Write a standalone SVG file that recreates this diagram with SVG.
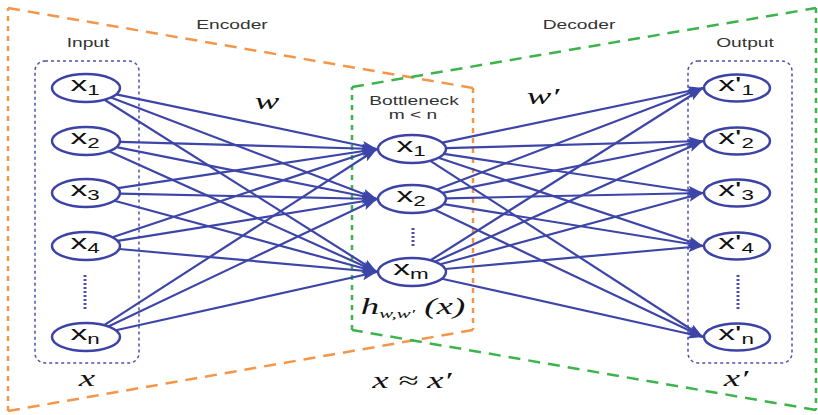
<svg xmlns="http://www.w3.org/2000/svg" width="818" height="415" viewBox="0 0 818 415">
<style>
.bg{fill:#ffffff}
.or{fill:none;stroke:#f4964a;stroke-width:2.5;stroke-dasharray:12 8}
.orv{fill:none;stroke:#f4964a;stroke-width:2.5;stroke-dasharray:5 5}
.gr{fill:none;stroke:#3cb44b;stroke-width:2.5;stroke-dasharray:12 8}
.grv{fill:none;stroke:#3cb44b;stroke-width:2.5;stroke-dasharray:5 5}
.box{fill:none;stroke:#4a50b0;stroke-width:1.5;stroke-dasharray:3 3}
.dots{fill:none;stroke:#4a50b0;stroke-width:3;stroke-dasharray:2 2}
.edge{fill:none;stroke:#3d45a8;stroke-width:2.2;marker-end:url(#arr)}
.node ellipse{fill:#ffffff;stroke:#3d43a5;stroke-width:2.5}
.lbl{font-family:"Liberation Sans",Arial,sans-serif;font-size:21px;fill:#111;text-anchor:middle}
.sub{font-size:14px}
.cap{font-family:"Liberation Sans",Arial,sans-serif;font-size:12px;fill:#333;text-anchor:middle}
.math{font-family:"Liberation Serif","Times New Roman",serif;font-style:italic;font-size:23px;fill:#111;text-anchor:middle}
</style>
<defs>
<marker id="arr" markerUnits="userSpaceOnUse" markerWidth="16" markerHeight="12" refX="15" refY="5" orient="auto">
<path d="M0,0 L15,5 L0,10 L3,5 Z" fill="#3d45a8"/>
</marker>
</defs>
<rect class="bg" x="0" y="0" width="818" height="415"/>
<g id="encoder-frame">
<path class="or" d="M8,8 L473,88"/>
<path class="orv" d="M473,88 L473,330"/>
<path class="or" d="M473,330 L8,411"/>
<path class="orv" d="M8,411 L8,8"/>
</g>
<g id="decoder-frame">
<path class="gr" d="M352,87 L816,8"/>
<path class="grv" d="M816,8 L816,410"/>
<path class="gr" d="M816,410 L352,330"/>
<path class="grv" d="M352,330 L352,87"/>
</g>
<g id="input-box"><rect class="box" x="35" y="61" width="104" height="302" rx="10"/></g>
<g id="output-box"><rect class="box" x="688" y="61" width="104" height="302" rx="10"/></g>
<g id="connectors">
<path class="edge" d="M116.3,94.4 L377,149"/>
<path class="edge" d="M110.9,97.5 L377,199"/>
<path class="edge" d="M104.5,99.7 L377,272"/>
<path class="edge" d="M119.9,141.9 L377,149"/>
<path class="edge" d="M116.6,147.1 L377,199"/>
<path class="edge" d="M108.9,151.3 L377,272"/>
<path class="edge" d="M117.9,188.2 L377,149"/>
<path class="edge" d="M120,193.7 L377,199"/>
<path class="edge" d="M114.4,200.7 L377,272"/>
<path class="edge" d="M112.4,237.2 L377,149"/>
<path class="edge" d="M117.6,240.9 L377,199"/>
<path class="edge" d="M119.2,249 L377,272"/>
<path class="edge" d="M104.2,325.2 L377,149"/>
<path class="edge" d="M108.3,326.4 L377,199"/>
<path class="edge" d="M115.9,330.3 L377,272"/>
<path class="edge" d="M442.3,142.6 L703,88"/>
<path class="edge" d="M445.9,148.1 L703,141"/>
<path class="edge" d="M443.9,153.8 L703,193"/>
<path class="edge" d="M438.4,157.8 L703,246"/>
<path class="edge" d="M430.3,160.8 L703,337"/>
<path class="edge" d="M436.9,189.5 L703,88"/>
<path class="edge" d="M442.6,192.9 L703,141"/>
<path class="edge" d="M446,198.3 L703,193"/>
<path class="edge" d="M443.7,204.1 L703,246"/>
<path class="edge" d="M434.3,209.6 L703,337"/>
<path class="edge" d="M430.6,260.3 L703,88"/>
<path class="edge" d="M435,261.7 L703,141"/>
<path class="edge" d="M440.4,264.3 L703,193"/>
<path class="edge" d="M445.2,269 L703,246"/>
<path class="edge" d="M441.9,278.7 L703,337"/>
</g>
<g id="in-x1" class="node"><ellipse cx="86" cy="88" rx="34" ry="14"/><text class="lbl" transform="translate(85,91) scale(1.6,1)">x<tspan class="sub" dy="4">1</tspan></text></g>
<g id="in-x2" class="node"><ellipse cx="86" cy="141" rx="34" ry="14"/><text class="lbl" transform="translate(85,144) scale(1.6,1)">x<tspan class="sub" dy="4">2</tspan></text></g>
<g id="in-x3" class="node"><ellipse cx="86" cy="193" rx="34" ry="14"/><text class="lbl" transform="translate(85,196) scale(1.6,1)">x<tspan class="sub" dy="4">3</tspan></text></g>
<g id="in-x4" class="node"><ellipse cx="86" cy="246" rx="34" ry="14"/><text class="lbl" transform="translate(85,249) scale(1.6,1)">x<tspan class="sub" dy="4">4</tspan></text></g>
<g id="in-dots"><path class="dots" d="M85,275 L85,311"/></g>
<g id="in-xn" class="node"><ellipse cx="86" cy="337" rx="34" ry="14"/><text class="lbl" transform="translate(85,340) scale(1.6,1)">x<tspan class="sub" dy="4">n</tspan></text></g>
<g id="mid-x1" class="node"><ellipse cx="412" cy="149" rx="34" ry="14"/><text class="lbl" transform="translate(411,152) scale(1.6,1)">x<tspan class="sub" dy="4">1</tspan></text></g>
<g id="mid-x2" class="node"><ellipse cx="412" cy="199" rx="34" ry="14"/><text class="lbl" transform="translate(411,202) scale(1.6,1)">x<tspan class="sub" dy="4">2</tspan></text></g>
<g id="mid-dots"><path class="dots" d="M413,228 L413,248"/></g>
<g id="mid-xm" class="node"><ellipse cx="412" cy="272" rx="34" ry="14"/><text class="lbl" transform="translate(411,275) scale(1.6,1)">x<tspan class="sub" dy="4">m</tspan></text></g>
<g id="out-x1" class="node"><ellipse cx="737" cy="88" rx="33" ry="13.5"/><text class="lbl" transform="translate(736,91) scale(1.6,1)">x'<tspan class="sub" dy="4">1</tspan></text></g>
<g id="out-x2" class="node"><ellipse cx="737" cy="141" rx="33" ry="13.5"/><text class="lbl" transform="translate(736,144) scale(1.6,1)">x'<tspan class="sub" dy="4">2</tspan></text></g>
<g id="out-x3" class="node"><ellipse cx="737" cy="193" rx="33" ry="13.5"/><text class="lbl" transform="translate(736,196) scale(1.6,1)">x'<tspan class="sub" dy="4">3</tspan></text></g>
<g id="out-x4" class="node"><ellipse cx="737" cy="246" rx="33" ry="13.5"/><text class="lbl" transform="translate(736,249) scale(1.6,1)">x'<tspan class="sub" dy="4">4</tspan></text></g>
<g id="out-dots"><path class="dots" d="M738,275 L738,311"/></g>
<g id="out-xn" class="node"><ellipse cx="737" cy="337" rx="33" ry="13.5"/><text class="lbl" transform="translate(736,340) scale(1.6,1)">x'<tspan class="sub" dy="4">n</tspan></text></g>
<g id="labels">
<text class="cap" transform="translate(232,29) scale(1.6,1)">Encoder</text>
<text class="cap" transform="translate(579,29) scale(1.6,1)">Decoder</text>
<text class="cap" transform="translate(88,47) scale(1.6,1)">Input</text>
<text class="cap" transform="translate(745,47) scale(1.6,1)">Output</text>
<text class="cap" transform="translate(414,104.5) scale(1.6,1)">Bottleneck</text>
<text class="cap" transform="translate(413,118.5) scale(1.6,1)">m &lt; n</text>
<text class="math" transform="translate(267,109) scale(1.6,1)">w</text>
<text class="math" transform="translate(543,104) scale(1.6,1)">w′</text>
<text class="math" transform="translate(413,314) scale(1.6,1)">h<tspan font-size="13" dy="4">w,w′</tspan><tspan dy="-4"> (x)</tspan></text>
<text class="math" transform="translate(87,386) scale(1.6,1)">x</text>
<text class="math" transform="translate(412,388) scale(1.6,1)">x ≈ x′</text>
<text class="math" transform="translate(736,386) scale(1.6,1)">x′</text>
</g>
</svg>
